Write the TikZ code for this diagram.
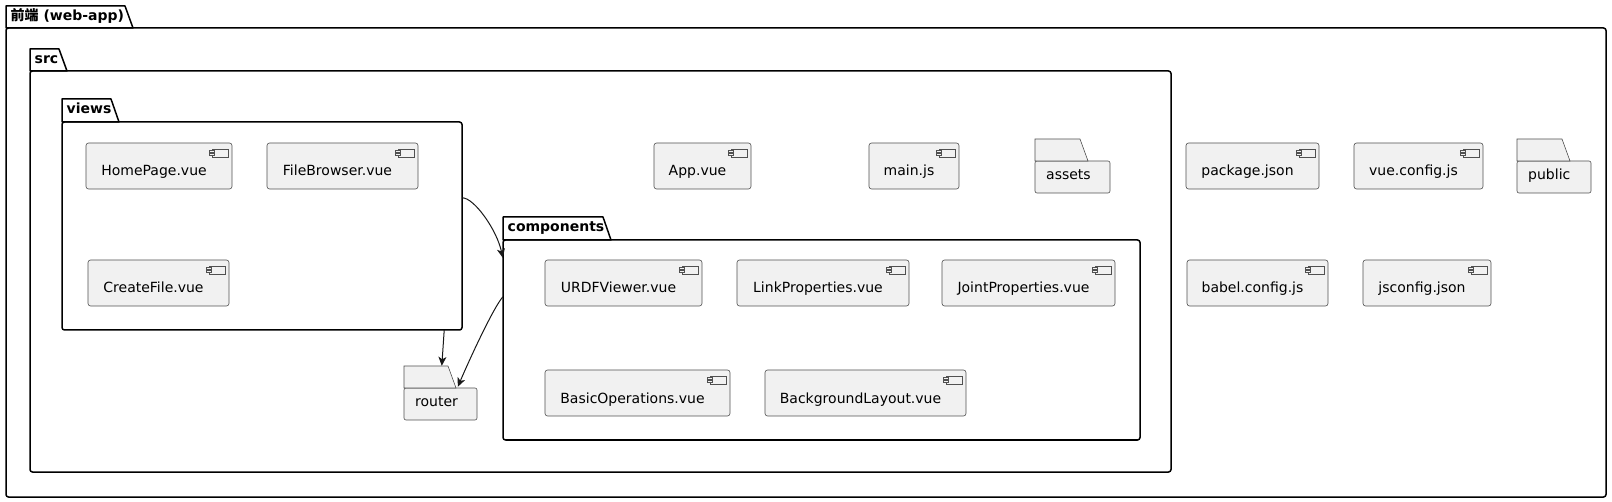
\documentclass[tikz,border=0pt]{standalone}
\usepackage{fontspec}
\setmainfont{DejaVu Sans}
\newfontfamily\cjk{Noto Sans CJK SC}
\usetikzlibrary{arrows.meta,fit,calc}
\definecolor{compfill}{HTML}{F1F1F1}
\definecolor{compline}{HTML}{181818}
\definecolor{boxline}{HTML}{505050}
% name x1 tabtop tabend ybody x2 y2 label
\newcommand\pkgbox[8]{%
  \node[fit={(#2,#5) (#6,#7)}, inner sep=0pt] (#1) {};
  \draw[pkgline, rounded corners=2.5pt] (#2,#5) rectangle (#6,#7);
  \draw[pkgline] (#2,#5) -- (#2,#3) -- ({#4-8},#3) -- (#4,#5) -- cycle;
  \node[ptext, anchor=base west] at ({#2+4.5},{#3+15}) {#8};
}
% name x1 y1 x2 y2 text
\newcommand\compnode[6]{%
  \node[compbox, fit={(#2,#3) (#4,#5)}] (#1) {};
  \draw[iconst] ({#4-20},{#3+6}) rectangle ({#4-4},{#3+14});
  \draw[iconst] ({#4-22.5},{#3+7.5}) rectangle ({#4-17.5},{#3+9.5});
  \draw[iconst] ({#4-22.5},{#3+10.5}) rectangle ({#4-17.5},{#3+12.5});
  \node[ctext, anchor=base] at ({(#2+#4)/2-5},{#3+33}) {#6};
}
% name x1 tabtop tabend ybody x2 y2 text
\newcommand\foldernode[8]{%
  \node[fit={(#2,#3) (#6,#7)}, inner sep=0pt] (#1) {};
  \draw[foldline, rounded corners=2pt] (#2,#5) rectangle (#6,#7);
  \draw[foldline] (#2,#5) -- (#2,#3) -- ({#4-8},#3) -- (#4,#5) -- cycle;
  \node[ctext, anchor=base west] at ({#2+11},{#5+18.5}) {#8};
}
\begin{document}
\begin{tikzpicture}[x=1pt,y=-1pt,
  pkgline/.style={draw=black, line width=1.5pt, line join=round},
  foldline/.style={draw=boxline, line width=0.6pt, fill=compfill},
  compbox/.style={draw=boxline, line width=0.6pt, fill=compfill, rounded corners=2.5pt, inner sep=0pt},
  iconst/.style={draw=boxline, line width=0.6pt, fill=compfill},
  ctext/.style={font=\fontsize{14}{16}\selectfont, inner sep=0pt},
  ptext/.style={font=\fontsize{14}{16}\selectfont\bfseries, inner sep=0pt},
  dep/.style={draw=compline, line width=1pt, -{Stealth[length=9pt,width=8pt,inset=2.5pt]}}
]
\useasboundingbox (0,0) rectangle (1612,502);

\pkgbox{web}{6}{6}{133}{28}{1606}{497}{{\cjk 前端} (web-app)}
\pkgbox{src}{30}{49}{67}{71}{1171}{472}{src}
\pkgbox{views}{62}{99}{119}{122}{462}{330}{views}
\pkgbox{comps}{503}{217}{611}{240}{1140}{440}{components}

\compnode{home}{86}{143}{232}{189}{HomePage.vue}
\compnode{filebrowser}{267}{143}{418}{189}{FileBrowser.vue}
\compnode{createfile}{88}{260}{229}{306}{CreateFile.vue}
\compnode{app}{654}{143}{751}{189}{App.vue}
\compnode{mainjs}{869}{143}{959}{189}{main.js}
\compnode{packagejson}{1186}{143}{1319}{189}{package.json}
\compnode{vueconfig}{1354}{143}{1483}{189}{vue.config.js}
\compnode{babel}{1187}{260}{1328}{306}{babel.config.js}
\compnode{jsconfig}{1363}{260}{1491}{306}{jsconfig.json}
\compnode{urdf}{545}{260}{702}{306}{URDFViewer.vue}
\compnode{link}{737}{260}{909}{306}{LinkProperties.vue}
\compnode{joint}{942}{260}{1115}{306}{JointProperties.vue}
\compnode{basic}{545}{370}{730}{416}{BasicOperations.vue}
\compnode{background}{765}{370}{966}{416}{BackgroundLayout.vue}

\foldernode{assets}{1035}{139}{1088}{161}{1110}{193}{assets}
\foldernode{public}{1517}{139}{1570}{161}{1591}{193}{public}
\foldernode{router}{404}{366}{456}{388}{477}{420}{router}

\draw[dep] ($(views.north east)+(0,76)$) .. controls +(12,0) and +(-6,-28) .. ($(comps.north west)+(0,18)$);
\draw[dep] ($(views.south east)+(-18,0)$) -- ($(router.north west)+(38,0)$);
\draw[dep] ($(comps.north west)+(0,57)$) .. controls +(-10,12) and +(12,-28) .. ($(router.north west)+(54,21)$);
\end{tikzpicture}
\end{document}
